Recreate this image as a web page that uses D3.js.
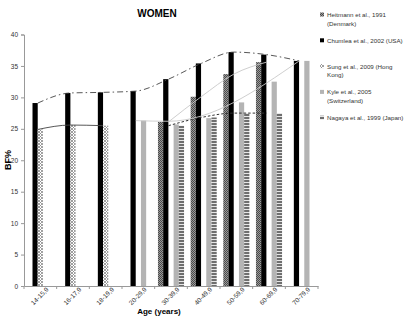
<!DOCTYPE html>
<html>
<head>
<meta charset="utf-8">
<script src="https://cdn.jsdelivr.net/npm/d3@7"></script>
<style>
body { margin: 0; background: #fff; }
text { font-family: "Liberation Sans", Arial, sans-serif; }
</style>
</head>
<body>
<script>
// age groups and BF% per study (null = no data for that age group)
const categories = ["14-15,9", "16-17,9", "18-19,9", "20-29,9", "30-39,9", "40-49,9", "50-59,9", "60-69,9", "70-79,9"];
const heitmann = [null, null, null, null, 26.1, 30.1, 33.7, 35.6, null];
const chumlea  = [29.1, 30.7, 30.8, 31.0, 32.9, 35.4, 37.2, 36.8, 35.8];
const sung     = [24.9, 25.6, 25.5, null, null, null, null, null, null];
const kyle     = [null, null, null, 26.3, 25.7, 26.7, 29.2, 32.5, 35.8];
const nagaya   = [null, null, null, null, 25.5, 26.8, 27.5, 27.5, null];
// hand drawn trend line over the Kyle bars
const kyleTrend = [null, null, null, 26.3, 26.2, null, null, null, 35.8];
const yTicks = [0, 5, 10, 15, 20, 25, 30, 35, 40];

const seriesNames = ["Heitmann", "Chumlea", "Sung", "Kyle", "Nagaya"];
const legendLabels = [
	["Heitmann et al., 1991", "(Denmark)"],
	["Chumlea et al., 2002  (USA)"],
	["Sung et al., 2009  (Hong", "Kong)"],
	["Kyle et al., 2005", "(Switzerland)"],
	["Nagaya et al., 1999 (Japan)"]
];

let W = 409, H = 318;
let svg = d3.select("body").append("svg")
	.attr("width", W)
	.attr("height", H);

svg.append("rect").attr("width", W).attr("height", H).attr("fill", "#fff");

// fill patterns
let defs = svg.append("defs");
let p1 = defs.append("pattern").attr("id", "pHeit").attr("patternUnits", "userSpaceOnUse")
	.attr("width", 2).attr("height", 2);
p1.append("rect").attr("width", 2).attr("height", 2).attr("fill", "#9a9a9a");
p1.append("rect").attr("width", 1).attr("height", 1).attr("fill", "#4a4a4a");
p1.append("rect").attr("x", 1).attr("y", 1).attr("width", 1).attr("height", 1).attr("fill", "#4a4a4a");

let p2 = defs.append("pattern").attr("id", "pSung").attr("patternUnits", "userSpaceOnUse")
	.attr("width", 3).attr("height", 3);
p2.append("rect").attr("width", 3).attr("height", 3).attr("fill", "#fff");
p2.append("path").attr("d", "M0,0L3,3M3,0L0,3").attr("stroke", "#888").attr("stroke-width", 0.8);

let p3 = defs.append("pattern").attr("id", "pNag").attr("patternUnits", "userSpaceOnUse")
	.attr("width", 5).attr("height", 3);
p3.append("rect").attr("width", 5).attr("height", 3).attr("fill", "#e6e6e6");
p3.append("rect").attr("width", 5).attr("height", 2).attr("fill", "#6e6e6e");

let fills = {
	Heitmann: "url(#pHeit)",
	Chumlea: "#000",
	Sung: "url(#pSung)",
	Kyle: "#b4b4b4",
	Nagaya: "url(#pNag)"
};
let values = { Heitmann: heitmann, Chumlea: chumlea, Sung: sung, Kyle: kyle, Nagaya: nagaya };

let x = d3.scaleBand().domain(categories).range([24, 318]).padding(0);
let xs = d3.scaleBand().domain(seriesNames).range([0, x.bandwidth()]).paddingInner(0).paddingOuter(0.63);
let y = d3.scaleLinear().domain([0, 40]).range([286, 34.5]);

// y axis
let ya = svg.append("g")
	.attr("transform", "translate(24,0)")
	.call(d3.axisLeft(y).tickValues(yTicks).tickSize(3).tickPadding(3));
ya.select(".domain").attr("stroke", "#999");
ya.selectAll(".tick line").attr("stroke", "#999");
ya.selectAll(".tick text").attr("fill", "#333").style("font-size", "6.5px");

// x axis
let xa = svg.append("g")
	.attr("transform", "translate(0,286)")
	.call(d3.axisBottom(x).tickSize(0).tickSizeOuter(0).tickPadding(6));
xa.select(".domain").attr("stroke", "#999");
xa.selectAll(".tick text")
	.attr("fill", "#333")
	.style("font-size", "6.5px")
	.attr("text-anchor", "end")
	.attr("transform", "translate(3,-2) rotate(-45)")
	.attr("dy", "0.35em");
svg.append("g").selectAll("line")
	.data(categories.concat(["end"]))
	.join("line")
	.attr("x1", (d, i) => i < categories.length ? x(d) : x.range()[1])
	.attr("x2", (d, i) => i < categories.length ? x(d) : x.range()[1])
	.attr("y1", 286).attr("y2", 289)
	.attr("stroke", "#999");

// bars
seriesNames.forEach(function(s) {
	svg.append("g").selectAll("rect")
		.data(categories.map((c, i) => ({ c: c, v: values[s][i] })).filter(d => d.v != null))
		.join("rect")
		.attr("x", d => x(d.c) + xs(s))
		.attr("width", xs.bandwidth())
		.attr("y", d => y(d.v))
		.attr("height", d => y(0) - y(d.v))
		.attr("fill", fills[s]);
});

// connecting lines
function drawLine(arr, stroke, dash, width) {
	let pts = categories.map((c, i) => ({ c: c, v: arr[i] })).filter(d => d.v != null);
	let line = d3.line()
		.x(d => x(d.c) + x.bandwidth() / 2 - 2.5)
		.y(d => y(d.v))
		.curve(d3.curveMonotoneX);
	svg.append("path")
		.datum(pts)
		.attr("d", line)
		.attr("fill", "none")
		.attr("stroke", stroke)
		.attr("stroke-width", width)
		.attr("stroke-dasharray", dash);
}
drawLine(kyleTrend, "#c8c8c8", null, 0.9);
drawLine(heitmann, "#c8c8c8", null, 0.9);
drawLine(sung, "#444", null, 0.9);
drawLine(nagaya, "#333", "2.5,2", 1);
drawLine(chumlea, "#444", "6,3,1.5,3", 0.9);

// title and axis labels
svg.append("text")
	.attr("x", 157).attr("y", 17)
	.attr("text-anchor", "middle")
	.style("font-size", "10px").style("font-weight", "bold")
	.text("WOMEN");

svg.append("text")
	.attr("transform", "translate(11,160) rotate(-90)")
	.attr("text-anchor", "middle")
	.style("font-size", "9px").style("font-weight", "bold")
	.text("BF%");

svg.append("text")
	.attr("x", 159).attr("y", 314)
	.attr("text-anchor", "middle")
	.style("font-size", "8px").style("font-weight", "bold")
	.text("Age (years)");

// legend
let lg = svg.append("g").attr("transform", "translate(320,0)");
seriesNames.forEach(function(s, i) {
	let cy = 15 + i * 25.8;
	lg.append("rect")
		.attr("x", 0).attr("y", cy - 2.5)
		.attr("width", 4).attr("height", 4)
		.attr("fill", fills[s]);
	legendLabels[i].forEach(function(t, j) {
		lg.append("text")
			.attr("x", 7).attr("y", cy + 2 + j * 8.5)
			.attr("fill", "#333")
			.style("font-size", "6.2px")
			.text(t);
	});
});
</script>
</body>
</html>
